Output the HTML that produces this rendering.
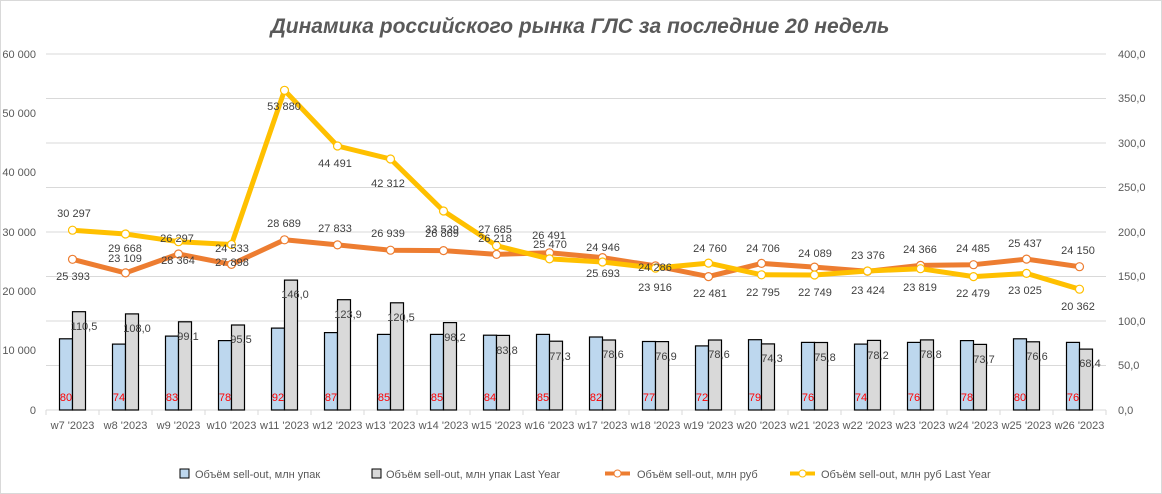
<!DOCTYPE html>
<html><head><meta charset="utf-8"><style>
body{margin:0;background:#fff;}
svg{display:block;font-family:"Liberation Sans",sans-serif;}
</style></head><body>
<svg width="1162" height="494" viewBox="0 0 1162 494">
<rect x="0" y="0" width="1162" height="494" fill="#fff"/>
<rect x="0.5" y="0.5" width="1161" height="493" fill="none" stroke="#d9d9d9"/>
<text x="580" y="33" text-anchor="middle" font-size="21" font-weight="bold" font-style="italic" fill="#595959">Динамика российского рынка ГЛС за последние 20 недель</text>
<g stroke="#d9d9d9" stroke-width="1">
<line x1="46" y1="54" x2="1106" y2="54"/><line x1="46" y1="98.5" x2="1106" y2="98.5"/><line x1="46" y1="143" x2="1106" y2="143"/><line x1="46" y1="187.5" x2="1106" y2="187.5"/><line x1="46" y1="232" x2="1106" y2="232"/><line x1="46" y1="276.5" x2="1106" y2="276.5"/><line x1="46" y1="321" x2="1106" y2="321"/><line x1="46" y1="365.5" x2="1106" y2="365.5"/><line x1="46" y1="410" x2="1106" y2="410"/>
<line x1="46" y1="410" x2="46" y2="415"/><line x1="99" y1="410" x2="99" y2="415"/><line x1="152" y1="410" x2="152" y2="415"/><line x1="205" y1="410" x2="205" y2="415"/><line x1="258" y1="410" x2="258" y2="415"/><line x1="311" y1="410" x2="311" y2="415"/><line x1="364" y1="410" x2="364" y2="415"/><line x1="417" y1="410" x2="417" y2="415"/><line x1="470" y1="410" x2="470" y2="415"/><line x1="523" y1="410" x2="523" y2="415"/><line x1="576" y1="410" x2="576" y2="415"/><line x1="629" y1="410" x2="629" y2="415"/><line x1="682" y1="410" x2="682" y2="415"/><line x1="735" y1="410" x2="735" y2="415"/><line x1="788" y1="410" x2="788" y2="415"/><line x1="841" y1="410" x2="841" y2="415"/><line x1="894" y1="410" x2="894" y2="415"/><line x1="947" y1="410" x2="947" y2="415"/><line x1="1000" y1="410" x2="1000" y2="415"/><line x1="1053" y1="410" x2="1053" y2="415"/><line x1="1106" y1="410" x2="1106" y2="415"/>
</g>
<g font-size="11" fill="#595959" text-anchor="end">
<text x="36" y="58">60 000</text><text x="36" y="117">50 000</text><text x="36" y="176">40 000</text><text x="36" y="236">30 000</text><text x="36" y="295">20 000</text><text x="36" y="354">10 000</text><text x="36" y="414">0</text>
</g>
<g font-size="11" fill="#595959">
<text x="1118" y="58">400,0</text><text x="1118" y="102">350,0</text><text x="1118" y="147">300,0</text><text x="1118" y="191">250,0</text><text x="1118" y="236">200,0</text><text x="1118" y="280">150,0</text><text x="1118" y="325">100,0</text><text x="1118" y="369">50,0</text><text x="1118" y="414">0,0</text>
</g>
<g font-size="11" fill="#595959" text-anchor="middle">
<text x="72.5" y="429">w7 '2023</text><text x="125.5" y="429">w8 '2023</text><text x="178.5" y="429">w9 '2023</text><text x="231.5" y="429">w10 '2023</text><text x="284.5" y="429">w11 '2023</text><text x="337.5" y="429">w12 '2023</text><text x="390.5" y="429">w13 '2023</text><text x="443.5" y="429">w14 '2023</text><text x="496.5" y="429">w15 '2023</text><text x="549.5" y="429">w16 '2023</text><text x="602.5" y="429">w17 '2023</text><text x="655.5" y="429">w18 '2023</text><text x="708.5" y="429">w19 '2023</text><text x="761.5" y="429">w20 '2023</text><text x="814.5" y="429">w21 '2023</text><text x="867.5" y="429">w22 '2023</text><text x="920.5" y="429">w23 '2023</text><text x="973.5" y="429">w24 '2023</text><text x="1026.5" y="429">w25 '2023</text><text x="1079.5" y="429">w26 '2023</text>
</g>
<g stroke="#000" stroke-width="1.2" fill="#BDD7EE">
<rect x="59.5" y="338.8" width="13" height="71.2"/><rect x="112.5" y="344.1" width="13" height="65.9"/><rect x="165.5" y="336.1" width="13" height="73.9"/><rect x="218.5" y="340.6" width="13" height="69.4"/><rect x="271.5" y="328.1" width="13" height="81.9"/><rect x="324.5" y="332.6" width="13" height="77.4"/><rect x="377.5" y="334.4" width="13" height="75.6"/><rect x="430.5" y="334.4" width="13" height="75.6"/><rect x="483.5" y="335.2" width="13" height="74.8"/><rect x="536.5" y="334.4" width="13" height="75.6"/><rect x="589.5" y="337" width="13" height="73"/><rect x="642.5" y="341.5" width="13" height="68.5"/><rect x="695.5" y="345.9" width="13" height="64.1"/><rect x="748.5" y="339.7" width="13" height="70.3"/><rect x="801.5" y="342.4" width="13" height="67.6"/><rect x="854.5" y="344.1" width="13" height="65.9"/><rect x="907.5" y="342.4" width="13" height="67.6"/><rect x="960.5" y="340.6" width="13" height="69.4"/><rect x="1013.5" y="338.8" width="13" height="71.2"/><rect x="1066.5" y="342.4" width="13" height="67.6"/>
</g>
<g stroke="#000" stroke-width="1.2" fill="#D9D9D9">
<rect x="72.5" y="311.7" width="13" height="98.3"/><rect x="125.5" y="313.9" width="13" height="96.1"/><rect x="178.5" y="321.8" width="13" height="88.2"/><rect x="231.5" y="325" width="13" height="85"/><rect x="284.5" y="280.1" width="13" height="129.9"/><rect x="337.5" y="299.7" width="13" height="110.3"/><rect x="390.5" y="302.8" width="13" height="107.2"/><rect x="443.5" y="322.6" width="13" height="87.4"/><rect x="496.5" y="335.4" width="13" height="74.6"/><rect x="549.5" y="341.2" width="13" height="68.8"/><rect x="602.5" y="340" width="13" height="70"/><rect x="655.5" y="341.6" width="13" height="68.4"/><rect x="708.5" y="340" width="13" height="70"/><rect x="761.5" y="343.9" width="13" height="66.1"/><rect x="814.5" y="342.5" width="13" height="67.5"/><rect x="867.5" y="340.4" width="13" height="69.6"/><rect x="920.5" y="339.9" width="13" height="70.1"/><rect x="973.5" y="344.4" width="13" height="65.6"/><rect x="1026.5" y="341.8" width="13" height="68.2"/><rect x="1079.5" y="349.1" width="13" height="60.9"/>
</g>
<g font-size="11" fill="#FF0000" text-anchor="middle">
<text x="66" y="401">80</text><text x="119" y="401">74</text><text x="172" y="401">83</text><text x="225" y="401">78</text><text x="278" y="401">92</text><text x="331" y="401">87</text><text x="384" y="401">85</text><text x="437" y="401">85</text><text x="490" y="401">84</text><text x="543" y="401">85</text><text x="596" y="401">82</text><text x="649" y="401">77</text><text x="702" y="401">72</text><text x="755" y="401">79</text><text x="808" y="401">76</text><text x="861" y="401">74</text><text x="914" y="401">76</text><text x="967" y="401">78</text><text x="1020" y="401">80</text><text x="1073" y="401">76</text>
</g>
<g font-size="11" fill="#404040" text-anchor="middle">
<text x="84" y="330">110,5</text><text x="137" y="332">108,0</text><text x="188" y="340">99,1</text><text x="241" y="343">95,5</text><text x="295" y="298">146,0</text><text x="348" y="318">123,9</text><text x="401" y="321">120,5</text><text x="455" y="341">98,2</text><text x="507" y="354">83,8</text><text x="560" y="360">77,3</text><text x="613" y="358">78,6</text><text x="666" y="360">76,9</text><text x="719" y="358">78,6</text><text x="772" y="362">74,3</text><text x="825" y="361">75,8</text><text x="878" y="359">78,2</text><text x="931" y="358">78,8</text><text x="984" y="363">73,7</text><text x="1037" y="360">76,6</text><text x="1090" y="367">68,4</text>
</g>
<polyline fill="none" stroke="#ED7D31" stroke-width="5" stroke-linejoin="round" points="72.5,259.3 125.5,272.9 178.5,254 231.5,264.4 284.5,239.8 337.5,244.9 390.5,250.2 443.5,250.6 496.5,254.4 549.5,252.8 602.5,257.6 655.5,265.9 708.5,276.6 761.5,263.4 814.5,267.1 867.5,271.3 920.5,265.4 973.5,264.7 1026.5,259.1 1079.5,266.7"/>
<polyline fill="none" stroke="#FFC000" stroke-width="5" stroke-linejoin="round" points="72.5,230.2 125.5,234 178.5,241.7 231.5,244.5 284.5,90.3 337.5,146 390.5,159 443.5,211 496.5,245.7 549.5,258.9 602.5,262 655.5,268.1 708.5,263.1 761.5,274.8 814.5,275 867.5,271 920.5,268.7 973.5,276.6 1026.5,273.4 1079.5,289.2"/>
<g fill="#fff" stroke="#ED7D31" stroke-width="1.2">
<circle cx="72.5" cy="259.3" r="4"/><circle cx="125.5" cy="272.9" r="4"/><circle cx="178.5" cy="254" r="4"/><circle cx="231.5" cy="264.4" r="4"/><circle cx="284.5" cy="239.8" r="4"/><circle cx="337.5" cy="244.9" r="4"/><circle cx="390.5" cy="250.2" r="4"/><circle cx="443.5" cy="250.6" r="4"/><circle cx="496.5" cy="254.4" r="4"/><circle cx="549.5" cy="252.8" r="4"/><circle cx="602.5" cy="257.6" r="4"/><circle cx="655.5" cy="265.9" r="4"/><circle cx="708.5" cy="276.6" r="4"/><circle cx="761.5" cy="263.4" r="4"/><circle cx="814.5" cy="267.1" r="4"/><circle cx="867.5" cy="271.3" r="4"/><circle cx="920.5" cy="265.4" r="4"/><circle cx="973.5" cy="264.7" r="4"/><circle cx="1026.5" cy="259.1" r="4"/><circle cx="1079.5" cy="266.7" r="4"/>
</g>
<g fill="#fff" stroke="#FFC000" stroke-width="1.2">
<circle cx="72.5" cy="230.2" r="4"/><circle cx="125.5" cy="234" r="4"/><circle cx="178.5" cy="241.7" r="4"/><circle cx="231.5" cy="244.5" r="4"/><circle cx="284.5" cy="90.3" r="4"/><circle cx="337.5" cy="146" r="4"/><circle cx="390.5" cy="159" r="4"/><circle cx="443.5" cy="211" r="4"/><circle cx="496.5" cy="245.7" r="4"/><circle cx="549.5" cy="258.9" r="4"/><circle cx="602.5" cy="262" r="4"/><circle cx="655.5" cy="268.1" r="4"/><circle cx="708.5" cy="263.1" r="4"/><circle cx="761.5" cy="274.8" r="4"/><circle cx="814.5" cy="275" r="4"/><circle cx="867.5" cy="271" r="4"/><circle cx="920.5" cy="268.7" r="4"/><circle cx="973.5" cy="276.6" r="4"/><circle cx="1026.5" cy="273.4" r="4"/><circle cx="1079.5" cy="289.2" r="4"/>
</g>
<g font-size="11" fill="#404040" text-anchor="middle">
<text x="74" y="217">30 297</text><text x="125" y="252">29 668</text><text x="178" y="264">28 364</text><text x="232" y="266">27 898</text><text x="284" y="110">53 880</text><text x="335" y="167">44 491</text><text x="388" y="187">42 312</text><text x="442" y="233">33 539</text><text x="495" y="233">27 685</text><text x="550" y="248">25 470</text><text x="603" y="277">25 693</text><text x="655" y="291">23 916</text><text x="710" y="252">24 760</text><text x="763" y="296">22 795</text><text x="815" y="296">22 749</text><text x="868" y="294">23 424</text><text x="920" y="291">23 819</text><text x="973" y="297">22 479</text><text x="1025" y="294">23 025</text><text x="1078" y="310">20 362</text>
<text x="73" y="280">25 393</text><text x="125" y="262">23 109</text><text x="177" y="242">26 297</text><text x="232" y="252">24 533</text><text x="284" y="227">28 689</text><text x="335" y="232">27 833</text><text x="388" y="237">26 939</text><text x="442" y="237">26 869</text><text x="495" y="242">26 218</text><text x="549" y="239">26 491</text><text x="603" y="251">24 946</text><text x="655" y="271">24 286</text><text x="710" y="297">22 481</text><text x="763" y="252">24 706</text><text x="815" y="257">24 089</text><text x="868" y="259">23 376</text><text x="920" y="253">24 366</text><text x="973" y="252">24 485</text><text x="1025" y="247">25 437</text><text x="1078" y="254">24 150</text>
</g>
<g font-size="11" fill="#595959">
<rect x="180" y="469" width="9" height="9" fill="#BDD7EE" stroke="#000" stroke-width="1"/>
<text x="195" y="478">Объём sell-out, млн упак</text>
<rect x="372" y="469" width="9" height="9" fill="#D9D9D9" stroke="#000" stroke-width="1"/>
<text x="386" y="478">Объём sell-out, млн упак Last Year</text>
<line x1="605" y1="473.5" x2="630" y2="473.5" stroke="#ED7D31" stroke-width="4"/>
<circle cx="617.5" cy="473.5" r="3.5" fill="#fff" stroke="#ED7D31"/>
<text x="637" y="478">Объём sell-out, млн руб</text>
<line x1="790" y1="473.5" x2="815" y2="473.5" stroke="#FFC000" stroke-width="4"/>
<circle cx="802.5" cy="473.5" r="3.5" fill="#fff" stroke="#FFC000"/>
<text x="821" y="478">Объём sell-out, млн руб Last Year</text>
</g>
</svg>
</body></html>
